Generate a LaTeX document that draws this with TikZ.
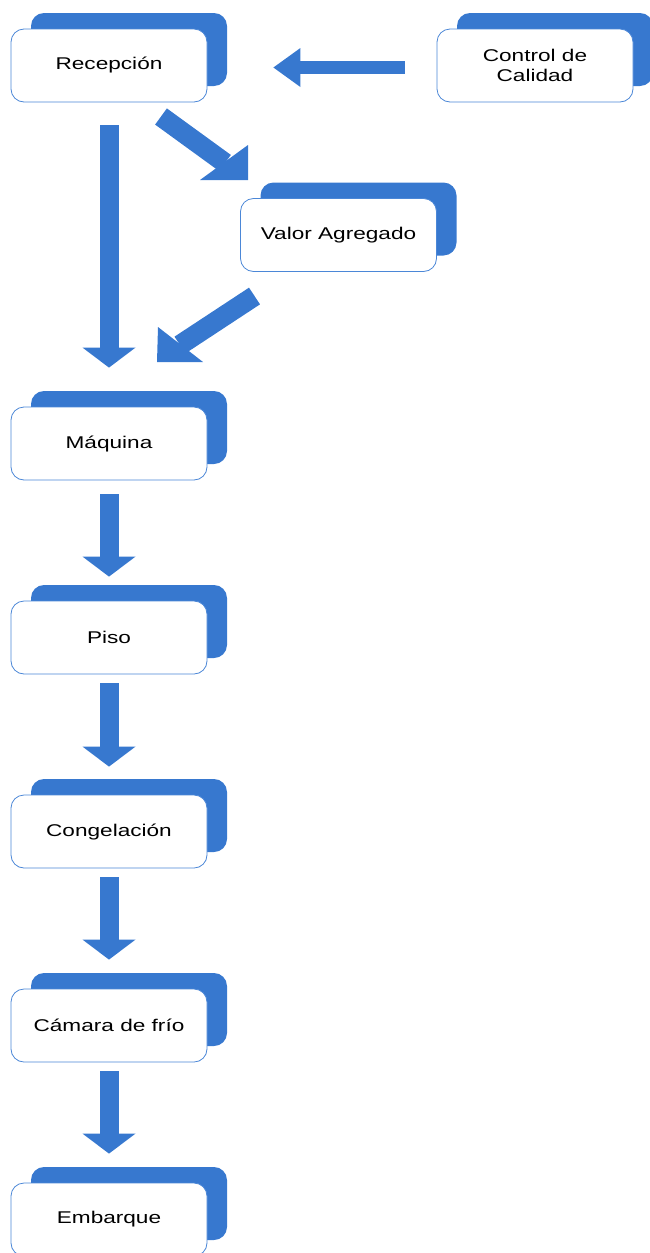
\documentclass[tikz,border=0pt]{standalone}
\usepackage{fontspec}
\setmainfont{Liberation Sans}[FakeStretch=1.33]
\usetikzlibrary{arrows.meta,shadows,calc}
\definecolor{myblue}{RGB}{55,120,207}
\definecolor{boxline}{RGB}{75,135,215}
\begin{document}
\begin{tikzpicture}[x=1pt,y=-1pt,
  stepbox/.style={draw=boxline, line width=0.8pt, fill=white, rounded corners=13pt,
    minimum width=196pt, minimum height=73pt, inner sep=0pt, align=center,
    font=\fontsize{17}{20}\selectfont,
    general shadow={shadow xshift=20pt, shadow yshift=16pt, fill=myblue, draw=none}},
  varrow/.style={draw=myblue, line width=19pt,
    -{Triangle[length=20pt,width=53pt,line width=0pt]}},
  harrow/.style={draw=myblue, line width=13pt,
    -{Triangle[length=27pt,width=39pt,line width=0pt]}},
  dshaft/.style={draw=myblue, line width=20pt},
  dhead/.style={fill=myblue}]
\useasboundingbox (0,0) rectangle (649,1253);

\node[stepbox] (rec)  at (109,65.5)   {Recepción};
\node[stepbox] (cc)   at (535,65.5)   {Control de\\Calidad};
\node[stepbox] (va)   at (338.5,235)  {Valor Agregado};
\node[stepbox] (maq)  at (109,443.5)  {Máquina};
\node[stepbox] (piso) at (109,637.5)  {Piso};
\node[stepbox] (cong) at (109,831.5)  {Congelación};
\node[stepbox] (cam)  at (109,1025.5) {Cámara de frío};
\node[stepbox] (emb)  at (109,1219.5) {Embarque};

% diagonal arrow Recepcion -> Valor Agregado
\coordinate (d1s) at (161,116.5);
\coordinate (d1b) at (225,163);
\coordinate (d1a) at (248,145);
\coordinate (d1e) at (248,180);
\coordinate (d1c) at (200,180);
% diagonal arrow Valor Agregado -> Maquina
\coordinate (d2s) at (254.5,296);
\coordinate (d2b) at (180,345);
\coordinate (d2a) at (158,327);
\coordinate (d2e) at (157,362);
\coordinate (d2c) at (203,362);

\draw[harrow] ([shift={(-32pt,-2pt)}]cc.west) -- ([shift={(66pt,-2pt)}]rec.east);
\draw[dshaft] (d1s) -- (d1b);
\fill[dhead] (d1a) -- (d1e) -- (d1c) -- cycle;
\draw[dshaft] (d2s) -- (d2b);
\fill[dhead] (d2a) -- (d2e) -- (d2c) -- cycle;
\draw[varrow] ([yshift=-23pt]rec.south) -- ([yshift=39pt]maq.north);
\draw[varrow] ([yshift=-14pt]maq.south) -- ([yshift=24pt]piso.north);
\draw[varrow] ([yshift=-9pt]piso.south) -- ([yshift=28pt]cong.north);
\draw[varrow] ([yshift=-9pt]cong.south) -- ([yshift=29pt]cam.north);
\draw[varrow] ([yshift=-9pt]cam.south) -- ([yshift=29pt]emb.north);
\end{tikzpicture}
\end{document}
